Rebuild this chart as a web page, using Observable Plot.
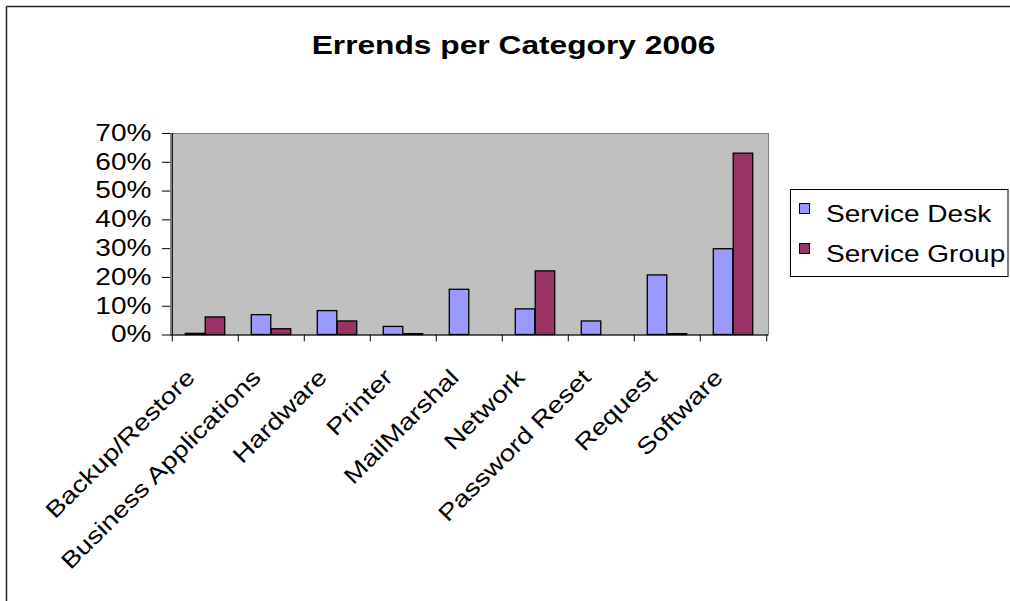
<!DOCTYPE html>
<html>
<head>
<meta charset="utf-8">
<script src="https://cdn.jsdelivr.net/npm/d3@7"></script>
<script src="https://cdn.jsdelivr.net/npm/@observablehq/plot@0.6"></script>
<style>
  html, body { margin: 0; padding: 0; background: #fff; }
  #chart { width: 1010px; height: 601px; overflow: hidden; }
</style>
</head>
<body>
<div id="chart"></div>
<script>
// ---- data ----
const chartTitle = "Errends per Category 2006";
const categories = [
  "Backup/Restore", "Business Applications", "Hardware", "Printer",
  "MailMarshal", "Network", "Password Reset", "Request", "Software"
];
const seriesNames = ["Service Desk", "Service Group"];
const serviceDesk  = [0.004, 0.069, 0.083, 0.028, 0.157, 0.089, 0.047, 0.207, 0.298];
const serviceGroup = [0.061, 0.020, 0.047, 0.003, 0.000, 0.221, 0.000, 0.003, 0.630];
const yTicks = [0, 0.1, 0.2, 0.3, 0.4, 0.5, 0.6, 0.7];

// ---- styling ----
const seriesColors = ["#9999FF", "#993366"];
const W = 1010, H = 601;
const M = {top: 133, right: 242, bottom: 266.5, left: 170};
const band = (W - M.left - M.right) / categories.length;
const FONT = "'Liberation Sans', Arial, sans-serif";
const TEXT_WIDEN = 1.22;   // text is set slightly wide, like the spreadsheet renderer

const rows = categories.flatMap((c, i) => [
  {category: c, series: seriesNames[0], value: serviceDesk[i]},
  {category: c, series: seriesNames[1], value: serviceGroup[i]}
]).filter(d => d.value > 0);

const svg = Plot.plot({
  width: W,
  height: H,
  marginTop: M.top,
  marginRight: M.right,
  marginBottom: M.bottom,
  marginLeft: M.left,
  style: {fontFamily: FONT, fontSize: "23px", color: "#000", background: "transparent"},
  x: {domain: categories, padding: 0, label: null},
  y: {domain: [0, 0.7], label: null},
  marks: [
    // plot area
    Plot.frame({fill: "#C0C0C0", stroke: "#808080"}),
    // grouped bars: Service Desk left of centre, Service Group right
    Plot.barY(rows.filter(d => d.series === seriesNames[0]), {
      x: "category", y: "value", fill: seriesColors[0], stroke: "#000", strokeWidth: 1.3,
      insetLeft: band * 0.2, insetRight: band * 0.5
    }),
    Plot.barY(rows.filter(d => d.series === seriesNames[1]), {
      x: "category", y: "value", fill: seriesColors[1], stroke: "#000", strokeWidth: 1.3,
      insetLeft: band * 0.5, insetRight: band * 0.2
    }),
    // axis lines
    Plot.ruleY([0], {stroke: "#000", strokeWidth: 1.2}),
    Plot.ruleX([categories[0]], {dx: -band / 2, stroke: "#000", strokeWidth: 1.2}),
    // y axis
    Plot.axisY(yTicks, {
      tickFormat: d3.format(".0%"), tickSize: 8, tickPadding: 11,
      stroke: "#000", fill: "#000", fontSize: 23
    }),
    // category boundary ticks
    Plot.axisX(categories, {tickSize: 7, tickFormat: () => "", dx: -band / 2, stroke: "#000"}),
    Plot.axisX([categories[categories.length - 1]], {tickSize: 7, tickFormat: () => "", dx: band / 2, stroke: "#000"}),
    // category labels
    Plot.axisX(categories, {
      tickSize: 0, tickPadding: 38.5, tickRotate: -45, dx: -14.5,
      textAnchor: "end", lineAnchor: "middle", fill: "#000", fontSize: 23
    })
  ]
});

const root = d3.select(svg);

// outer chart border (top and left edges)
root.append("line").attr("x1", 6.5).attr("y1", 6.5).attr("x2", W).attr("y2", 6.5)
  .attr("stroke", "#222").attr("stroke-width", 1.5);
root.append("line").attr("x1", 6.5).attr("y1", 6.5).attr("x2", 6.5).attr("y2", H)
  .attr("stroke", "#222").attr("stroke-width", 1.5);

// title
root.append("text")
  .attr("transform", "translate(513.5,54)")
  .attr("text-anchor", "middle")
  .attr("font-family", FONT).attr("font-weight", "bold").attr("font-size", 26)
  .attr("fill", "#000")
  .text(chartTitle);

// legend
const legend = root.append("g").attr("text-anchor", "start");
legend.append("rect")
  .attr("x", 790.5).attr("y", 189.5).attr("width", 217.5).attr("height", 87)
  .attr("fill", "#fff").attr("stroke", "#000").attr("stroke-width", 1);
seriesNames.forEach((name, i) => {
  legend.append("rect")
    .attr("x", 799.5).attr("y", 203.5 + i * 40).attr("width", 10).attr("height", 10)
    .attr("fill", seriesColors[i]).attr("stroke", "#000").attr("stroke-width", 1);
  legend.append("text")
    .attr("transform", `translate(826,${221.5 + i * 40})`)
    .attr("font-family", FONT).attr("font-size", 23).attr("fill", "#000")
    .text(name);
});

// widen every label along its own baseline (positions live in the transform)
svg.querySelectorAll("text").forEach(t => {
  const tr = t.getAttribute("transform") || "";
  t.setAttribute("transform", `${tr} scale(${TEXT_WIDEN},1)`);
});

document.getElementById("chart").appendChild(svg);
</script>
</body>
</html>
